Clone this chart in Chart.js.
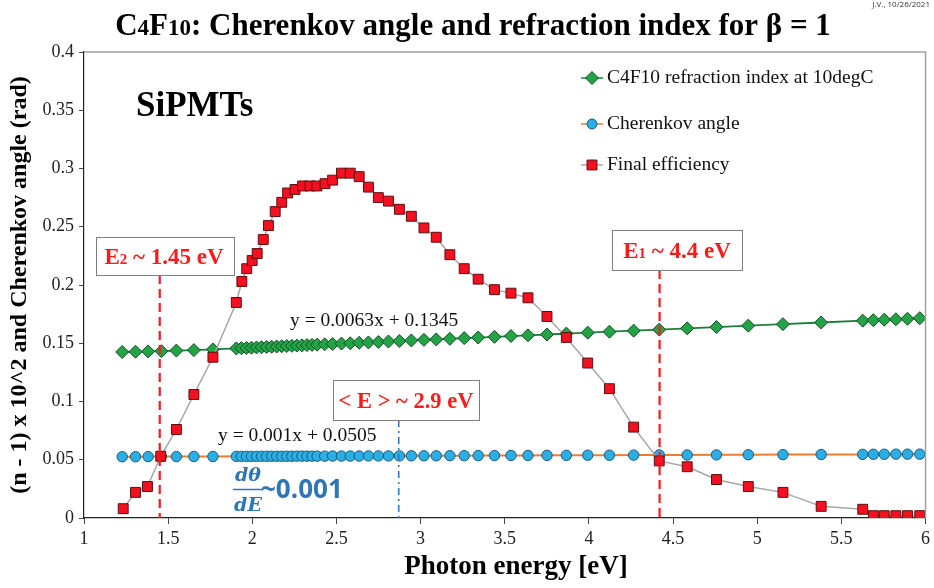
<!DOCTYPE html>
<html>
<head>
<meta charset="utf-8">
<script src="https://cdn.jsdelivr.net/npm/chart.js@4/dist/chart.umd.min.js"></script>
<style>
  html, body { margin: 0; padding: 0; background: #fff; }
  #wrap { width: 934px; height: 588px; position: relative; }
</style>
</head>
<body>
<div id="wrap"><canvas id="cherenkovChart" width="934" height="588"></canvas></div>
<script>
// photon energies (eV) for the refraction index / Cherenkov angle points
const indexEnergy = [1.227, 1.306, 1.381, 1.46, 1.549, 1.653, 1.766, 1.905, 1.935, 1.965, 1.995, 2.025,
  2.055, 2.085, 2.115, 2.145, 2.175, 2.205, 2.235, 2.265, 2.295, 2.325, 2.355, 2.385, 2.43, 2.477, 2.53,
  2.582, 2.635, 2.69, 2.749, 2.809, 2.874, 2.945, 3.02, 3.093, 3.174, 3.259, 3.342, 3.439, 3.537, 3.638,
  3.751, 3.866, 3.993, 4.122, 4.266, 4.418, 4.584, 4.758, 4.947, 5.153, 5.38, 5.627, 5.69, 5.755, 5.824,
  5.893, 5.966];
// (n - 1) x 10^2 for C4F10 at 10degC
const refractionIndex = [0.1425, 0.1427, 0.143, 0.1432, 0.1437, 0.1441, 0.1447, 0.1456, 0.1458, 0.146, 0.1462, 0.1464,
  0.1466, 0.1468, 0.147, 0.1472, 0.1474, 0.1476, 0.1478, 0.148, 0.1482, 0.1484, 0.1486, 0.1488, 0.1491, 0.1494, 0.1497,
  0.15, 0.1504, 0.1507, 0.1511, 0.1515, 0.1519, 0.1524, 0.1529, 0.1533, 0.1538, 0.1544, 0.1549, 0.1555, 0.1562, 0.1568,
  0.1575, 0.1583, 0.1591, 0.1599, 0.1608, 0.1617, 0.1628, 0.1639, 0.1651, 0.1664, 0.1678, 0.1694, 0.1698, 0.1702, 0.1706,
  0.171, 0.1715];
// Cherenkov angle (rad)
const cherenkovAngle = [0.0526, 0.0526, 0.0527, 0.0527, 0.0527, 0.0528, 0.0528, 0.0529, 0.0529, 0.0529, 0.0529, 0.0529,
  0.053, 0.053, 0.053, 0.053, 0.053, 0.053, 0.053, 0.0531, 0.0531, 0.0531, 0.0531, 0.0531, 0.0531, 0.0532, 0.0532,
  0.0532, 0.0532, 0.0533, 0.0533, 0.0533, 0.0533, 0.0534, 0.0534, 0.0534, 0.0535, 0.0535, 0.0536, 0.0536, 0.0537, 0.0537,
  0.0538, 0.0538, 0.0539, 0.0539, 0.054, 0.0541, 0.0541, 0.0542, 0.0543, 0.0544, 0.0545, 0.0546, 0.0547, 0.0547, 0.0548,
  0.0548, 0.0548];

// photon energies (eV) for final efficiency
const effEnergy = [1.233, 1.306, 1.377, 1.456, 1.549, 1.653, 1.766, 1.905, 1.938, 1.967, 1.999, 2.029, 2.065,
  2.096, 2.136, 2.175, 2.21, 2.254, 2.299, 2.343, 2.384, 2.432, 2.477, 2.53, 2.582, 2.635, 2.69, 2.749, 2.809,
  2.874, 2.945, 3.02, 3.093, 3.174, 3.259, 3.342, 3.439, 3.537, 3.638, 3.751, 3.866, 3.993, 4.122, 4.266, 4.418,
  4.584, 4.758, 4.947, 5.153, 5.38, 5.627, 5.69, 5.755, 5.824, 5.893, 5.966];
const finalEfficiency = [0.008, 0.022, 0.027, 0.053, 0.076, 0.106, 0.138, 0.185, 0.203, 0.214, 0.221, 0.227, 0.239,
  0.251, 0.263, 0.271, 0.279, 0.282, 0.285, 0.285, 0.285, 0.287, 0.29, 0.296, 0.296, 0.293, 0.284, 0.275, 0.272,
  0.265, 0.259, 0.249, 0.241, 0.226, 0.214, 0.205, 0.196, 0.193, 0.189, 0.173, 0.155, 0.133, 0.111, 0.078, 0.049,
  0.044, 0.033, 0.027, 0.022, 0.01, 0.0075, 0.002, 0.002, 0.002, 0.002, 0.002];

const xTicks = [1, 1.5, 2, 2.5, 3, 3.5, 4, 4.5, 5, 5.5, 6];
const yTicks = [0, 0.05, 0.1, 0.15, 0.2, 0.25, 0.3, 0.35, 0.4];

const legendLabels = ['C4F10 refraction index at 10degC', 'Cherenkov angle', 'Final efficiency'];
const markerEnergies = [1.45, 4.42];   // E2, E1
const meanEnergy = 2.87;

const SERIF = '"Liberation Serif", "Times New Roman", serif';

function toPoints(xs, ys) { return xs.map((x, i) => ({ x: x, y: ys[i] })); }

// simple marker drawing for the custom legend
function marker(ctx, style, x, y, r, fill, stroke) {
  ctx.save();
  ctx.fillStyle = fill; ctx.strokeStyle = stroke; ctx.lineWidth = 1;
  ctx.beginPath();
  if (style === 'rectRot') {
    ctx.moveTo(x - r, y); ctx.lineTo(x, y - r); ctx.lineTo(x + r, y); ctx.lineTo(x, y + r); ctx.closePath();
  } else if (style === 'rect') {
    const h = r * Math.SQRT1_2;
    ctx.rect(x - h, y - h, 2 * h, 2 * h);
  } else {
    ctx.arc(x, y, r, 0, Math.PI * 2);
  }
  ctx.fill(); ctx.stroke();
  ctx.restore();
}

// draw runs of text with different sizes along one baseline
function runs(ctx, parts, x, y, align, color) {
  ctx.save();
  ctx.fillStyle = color;
  ctx.textBaseline = 'alphabetic';
  ctx.textAlign = 'left';
  let total = 0;
  parts.forEach(p => { ctx.font = p[1]; total += ctx.measureText(p[0]).width; });
  let cx = align === 'center' ? x - total / 2 : x;
  parts.forEach(p => { ctx.font = p[1]; ctx.fillText(p[0], cx, y); cx += ctx.measureText(p[0]).width; });
  ctx.restore();
}

function box(ctx, x0, y0, x1, y1) {
  ctx.save();
  ctx.fillStyle = '#fff';
  ctx.fillRect(x0, y0, x1 - x0, y1 - y0);
  ctx.strokeStyle = '#808080'; ctx.lineWidth = 1;
  ctx.strokeRect(x0 + 0.5, y0 + 0.5, x1 - x0, y1 - y0);
  ctx.restore();
}

const annotations = {
  id: 'annotations',
  afterDatasetsDraw(chart) {
    const ctx = chart.ctx;
    const xs = chart.scales.x;
    const area = chart.chartArea;

    // frame top / right
    ctx.save();
    ctx.strokeStyle = '#a0a0a0'; ctx.lineWidth = 1.5;
    ctx.beginPath();
    ctx.moveTo(area.left, area.top); ctx.lineTo(area.right, area.top); ctx.lineTo(area.right, area.bottom);
    ctx.stroke();
    ctx.restore();

    // vertical markers
    ctx.save();
    ctx.strokeStyle = '#ff1a1a'; ctx.lineWidth = 2.2; ctx.setLineDash([9, 5]);
    const e2x = xs.getPixelForValue(markerEnergies[0]);
    const e1x = xs.getPixelForValue(markerEnergies[1]);
    ctx.beginPath(); ctx.moveTo(e2x, 275); ctx.lineTo(e2x, area.bottom); ctx.stroke();
    ctx.beginPath(); ctx.moveTo(e1x, 270); ctx.lineTo(e1x, area.bottom); ctx.stroke();
    ctx.strokeStyle = '#2f78c4'; ctx.lineWidth = 1.6; ctx.setLineDash([7, 4, 2, 4]);
    const mx = xs.getPixelForValue(meanEnergy);
    ctx.beginPath(); ctx.moveTo(mx, 420); ctx.lineTo(mx, area.bottom); ctx.stroke();
    ctx.restore();

    // labelled boxes
    const red = '#ff1a1a';
    const big = 'bold 23px ' + SERIF, small = 'bold 15px ' + SERIF;
    box(ctx, 96, 237, 234, 275);
    runs(ctx, [['E', big], ['2', small], [' ~ 1.45 eV', big]], 164, 264, 'center', red);
    box(ctx, 612, 230, 742, 270);
    runs(ctx, [['E', big], ['1', small], [' ~ 4.4 eV', big]], 677, 258, 'center', red);
    box(ctx, 333, 380, 479, 420);
    runs(ctx, [['< E > ~ 2.9 eV', 'bold 22.5px ' + SERIF]], 406, 408, 'center', red);

    // fit equations
    ctx.save();
    ctx.fillStyle = '#111'; ctx.font = '19.5px ' + SERIF; ctx.textAlign = 'left'; ctx.textBaseline = 'middle';
    ctx.fillText('y = 0.0063x + 0.1345', 290, 321);
    ctx.fillText('y = 0.001x + 0.0505', 218, 436);
    ctx.restore();

    // d theta / dE
    ctx.save();
    const blue = '#2e75b6';
    ctx.fillStyle = blue; ctx.strokeStyle = blue;
    ctx.textAlign = 'center'; ctx.textBaseline = 'alphabetic';
    ctx.font = 'italic bold 19px "DejaVu Serif", serif';
    ctx.fillText('dθ', 248, 481);
    ctx.fillText('dE', 248, 511);
    ctx.lineWidth = 1.5;
    ctx.beginPath(); ctx.moveTo(233, 489.5); ctx.lineTo(263, 489.5); ctx.stroke();
    ctx.textAlign = 'left';
    ctx.font = 'bold 26px "Open Sans", "DejaVu Sans", sans-serif';
    ctx.fillText('~0.001', 261, 498);
    ctx.restore();

    // legend
    const lx = 592, ly = [78, 124, 165];
    const lstyles = [
      ['rectRot', 6.5, '#21a346', '#1a4a28', '#1e8a3c'],
      ['circle', 5, '#2aaee6', '#1d5a7a', '#ed7d31'],
      ['rect', 7, '#f41020', '#5a1010', '#a6a6a6']
    ];
    ctx.save();
    ly.forEach((y, i) => {
      const s = lstyles[i];
      ctx.strokeStyle = s[4]; ctx.lineWidth = 1.5;
      ctx.beginPath(); ctx.moveTo(lx - 11, y); ctx.lineTo(lx + 11, y); ctx.stroke();
      marker(ctx, s[0], lx, y, s[1], s[2], s[3]);
      ctx.fillStyle = '#111'; ctx.font = '19.5px ' + SERIF; ctx.textAlign = 'left'; ctx.textBaseline = 'middle';
      ctx.fillText(legendLabels[i], 607, y);
    });
    ctx.restore();

    // SiPMTs
    ctx.save();
    ctx.fillStyle = '#000'; ctx.font = 'bold 35px ' + SERIF; ctx.textBaseline = 'middle'; ctx.textAlign = 'left';
    ctx.fillText('SiPMTs', 136, 107);
    ctx.restore();
  },
  afterDraw(chart) {
    const ctx = chart.ctx;
    // title
    const tb = 'bold 31px ' + SERIF, ts = 'bold 23px ' + SERIF;
    runs(ctx, [['C', tb], ['4', ts], ['F', tb], ['10', ts], [': Cherenkov angle and refraction index for β = 1', tb]],
      473, 35, 'center', '#000');
    // stamp
    ctx.save();
    ctx.fillStyle = '#333'; ctx.font = '8px "Open Sans", sans-serif'; ctx.textAlign = 'right'; ctx.textBaseline = 'top';
    ctx.fillText('J.V., 10/26/2021', 930, 1);
    ctx.restore();
    // axis titles
    ctx.save();
    ctx.fillStyle = '#000';
    ctx.font = 'bold 27px ' + SERIF; ctx.textAlign = 'center'; ctx.textBaseline = 'middle';
    ctx.fillText('Photon energy [eV]', 516, 567);
    ctx.translate(20, 285);
    ctx.rotate(-Math.PI / 2);
    ctx.font = 'bold 24px ' + SERIF;
    ctx.fillText('(n - 1) x 10^2 and Cherenkov angle (rad)', 0, 0);
    ctx.restore();
  }
};

new Chart(document.getElementById('cherenkovChart'), {
  type: 'line',
  data: {
    datasets: [
      {
        label: legendLabels[0],
        data: toPoints(indexEnergy, refractionIndex),
        borderColor: '#1b7f3a', borderWidth: 1.8,
        pointStyle: 'rectRot', pointRadius: 6.5,
        pointBackgroundColor: '#21a346', pointBorderColor: '#1a4a28', pointBorderWidth: 1,
        order: 3
      },
      {
        label: legendLabels[1],
        data: toPoints(indexEnergy, cherenkovAngle),
        borderColor: '#ed7d31', borderWidth: 2,
        pointStyle: 'circle', pointRadius: 5.2,
        pointBackgroundColor: '#2aaee6', pointBorderColor: '#1d5a7a', pointBorderWidth: 1,
        order: 2
      },
      {
        label: legendLabels[2],
        data: toPoints(effEnergy, finalEfficiency),
        borderColor: '#a6a6a6', borderWidth: 1.5,
        pointStyle: 'rect', pointRadius: 7,
        pointBackgroundColor: '#f41020', pointBorderColor: '#5a1010', pointBorderWidth: 1,
        order: 1
      }
    ]
  },
  options: {
    responsive: false,
    animation: false,
    layout: { padding: { left: 0, right: 6, top: 52, bottom: 0 } },
    plugins: { legend: { display: false }, tooltip: { enabled: false }, title: { display: false } },
    scales: {
      x: {
        type: 'linear', min: 1, max: 6,
        afterFit(scale) { scale.height = 70; },
        afterBuildTicks(scale) { scale.ticks = xTicks.map(v => ({ value: v })); },
        ticks: { color: '#222', padding: 4, font: { family: SERIF, size: 18 }, maxRotation: 0, autoSkip: false,
          callback: v => String(v) },
        grid: { drawOnChartArea: false, drawTicks: true, tickLength: 6, color: '#444' },
        border: { display: true, color: '#222', width: 1.2 }
      },
      y: {
        type: 'linear', min: 0, max: 0.4,
        afterFit(scale) { scale.width = 84; },
        afterBuildTicks(scale) { scale.ticks = yTicks.map(v => ({ value: v })); },
        ticks: { color: '#222', padding: 5, font: { family: SERIF, size: 18 }, autoSkip: false,
          callback: v => String(v) },
        grid: { drawOnChartArea: false, drawTicks: true, tickLength: 5, color: '#444' },
        border: { display: true, color: '#222', width: 1.2 }
      }
    }
  },
  plugins: [annotations]
});
</script>
</body>
</html>
